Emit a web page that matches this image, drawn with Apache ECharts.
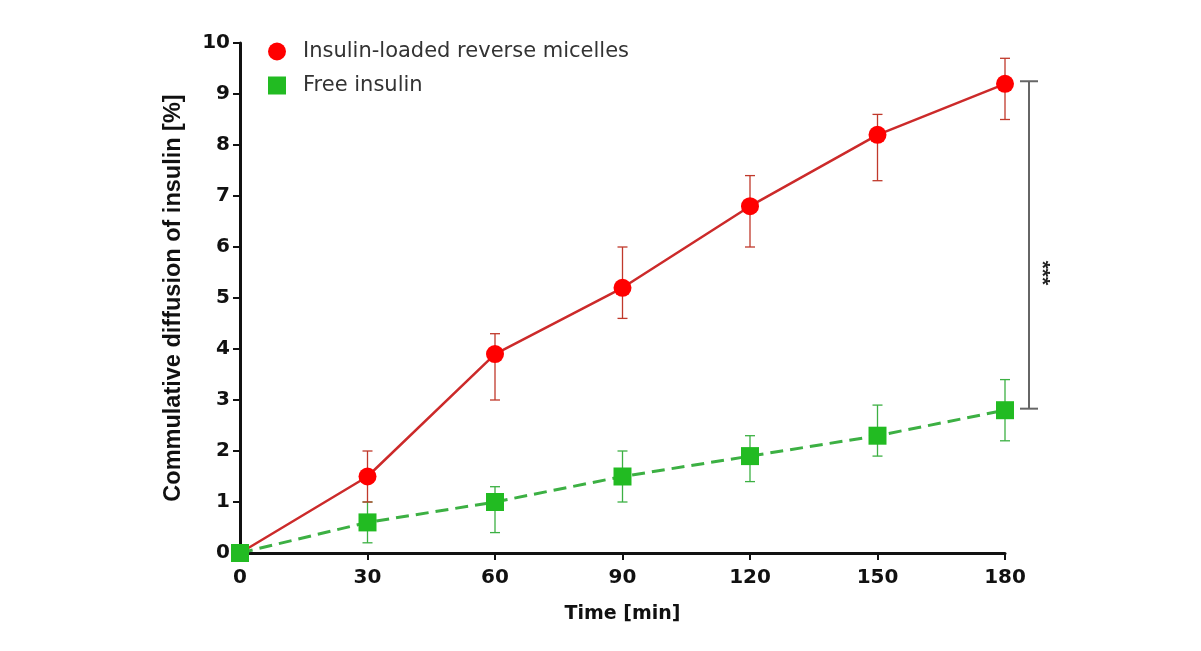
<!DOCTYPE html>
<html><head><meta charset="utf-8">
<script src="https://cdn.jsdelivr.net/npm/echarts@6/dist/echarts.min.js"></script>
<style>html,body{margin:0;padding:0;background:#fff;}#c{width:1201px;height:651px;}</style>
</head><body><div id="c"></div>
<script>
const times = [0, 30, 60, 90, 120, 150, 180];
const micelles = [0, 1.5, 3.9, 5.2, 6.8, 8.2, 9.2];
const micellesLow = [0, 1.0, 3.0, 4.6, 6.0, 7.3, 8.5];
const micellesHigh = [0, 2.0, 4.3, 6.0, 7.4, 8.6, 9.7];
const freeIns = [0, 0.6, 1.0, 1.5, 1.9, 2.3, 2.8];
const freeLow = [0, 0.2, 0.4, 1.0, 1.4, 1.9, 2.2];
const freeHigh = [0, 1.0, 1.3, 2.0, 2.3, 2.9, 3.4];
const sigBracket = [[180, 2.83, 9.25, '***']];

const fontW = 'DejaVu Sans, Verdana, sans-serif';
const fontN = 'Liberation Sans, Arial, sans-serif';
const chart = echarts.init(document.getElementById('c'));

function errItem(color) {
  return function (params, api) {
    const x = api.value(0);
    const lo = api.coord([x, api.value(1)]);
    const hi = api.coord([x, api.value(2)]);
    const w = 5;
    const st = { stroke: color, lineWidth: 1.3 };
    return { type: 'group', children: [
      { type: 'line', shape: { x1: lo[0], y1: lo[1], x2: hi[0], y2: hi[1] }, style: st },
      { type: 'line', shape: { x1: lo[0]-w, y1: lo[1], x2: lo[0]+w, y2: lo[1] }, style: st },
      { type: 'line', shape: { x1: hi[0]-w, y1: hi[1], x2: hi[0]+w, y2: hi[1] }, style: st }
    ]};
  };
}

chart.setOption({
  animation: false,
  backgroundColor: '#fff',
  grid: { left: 240, right: 196, top: 43, bottom: 98 },
  legend: {
    left: 263, top: 36, orient: 'vertical', itemGap: 13, itemWidth: 18, itemHeight: 18,
    textStyle: { fontFamily: fontW, fontSize: 21, color: '#333', padding: [0, 0, 0, 12] },
    data: [
      { name: 'Insulin-loaded reverse micelles', icon: 'circle', itemStyle: { color: '#ff0000' } },
      { name: 'Free insulin', icon: 'rect', itemStyle: { color: '#22bb22' } }
    ]
  },
  xAxis: {
    type: 'value', min: 0, max: 180, interval: 30,
    name: 'Time [min]', nameLocation: 'middle', nameGap: 52,
    nameTextStyle: { fontFamily: fontW, fontWeight: 'bold', fontSize: 19, color: '#111' },
    axisLine: { lineStyle: { color: '#111', width: 3 } },
    axisTick: { lineStyle: { color: '#111', width: 2 }, length: 7 },
    axisLabel: { fontFamily: fontW, fontWeight: 'bold', fontSize: 20, color: '#111', margin: 15 },
    splitLine: { show: false }
  },
  yAxis: {
    type: 'value', min: 0, max: 10, interval: 1,
    name: 'Commulative diffusion of insulin [%]', nameLocation: 'middle', nameGap: 54,
    nameTextStyle: { fontFamily: fontN, fontWeight: 'bold', fontSize: 23.5, color: '#111' },
    axisLine: { show: true, lineStyle: { color: '#111', width: 3 } },
    axisTick: { show: true, lineStyle: { color: '#111', width: 2 }, length: 7 },
    axisLabel: { fontFamily: fontW, fontWeight: 'bold', fontSize: 20, color: '#111', margin: 10 },
    splitLine: { show: false }
  },
  series: [
    {
      name: 'Free insulin err', type: 'custom', renderItem: errItem('#3cb043'),
      data: times.map((t, i) => [t, freeLow[i], freeHigh[i]]), z: 1, silent: true
    },
    {
      name: 'Micelles err', type: 'custom', renderItem: errItem('#c0392b'),
      data: times.map((t, i) => [t, micellesLow[i], micellesHigh[i]]), z: 1, silent: true
    },
    {
      name: 'Insulin-loaded reverse micelles', type: 'line',
      data: times.map((t, i) => [t, micelles[i]]),
      symbol: 'circle', symbolSize: 18,
      lineStyle: { color: '#cc2a2a', width: 2.5 },
      itemStyle: { color: '#ff0000' }, z: 3
    },
    {
      name: 'Free insulin', type: 'line',
      data: times.map((t, i) => [t, freeIns[i]]),
      symbol: 'rect', symbolSize: 18,
      lineStyle: { color: '#3cb043', width: 3, type: [13, 7] },
      itemStyle: { color: '#22bb22' }, z: 4
    },
    {
      name: 'sig', type: 'custom', silent: true, clip: false,
      data: sigBracket,
      renderItem: function (params, api) {
        const lo = api.coord([api.value(0), api.value(1)]);
        const hi = api.coord([api.value(0), api.value(2)]);
        const x = lo[0] + 24;
        const st = { stroke: '#666', lineWidth: 2 };
        return { type: 'group', children: [
          { type: 'line', shape: { x1: x, y1: lo[1], x2: x, y2: hi[1] }, style: st },
          { type: 'line', shape: { x1: x-9, y1: lo[1], x2: x+9, y2: lo[1] }, style: st },
          { type: 'line', shape: { x1: x-9, y1: hi[1], x2: x+9, y2: hi[1] }, style: st },
          { type: 'text', x: x + 13, y: (lo[1] + hi[1]) / 2 + 28, rotation: -Math.PI / 2,
            style: { text: '***', fontSize: 21, fontWeight: 'bold', fill: '#222', fontFamily: fontN,
                     align: 'center', verticalAlign: 'middle' } }
        ]};
      }
    }
  ]
});
</script></body></html>
